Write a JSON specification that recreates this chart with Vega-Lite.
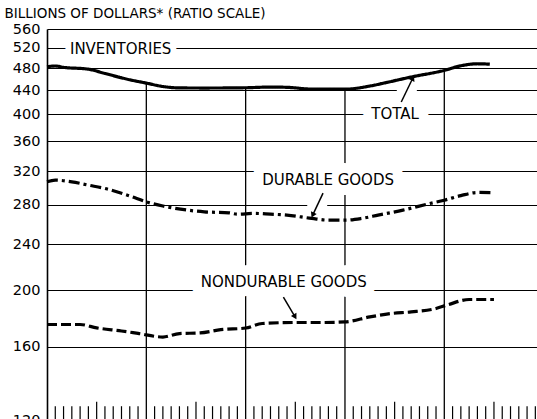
{
  "$schema": "https://vega.github.io/schema/vega-lite/v6.json",
  "width": 490,
  "height": 391,
  "autosize": {"type": "none"},
  "padding": {"left": 47, "top": 29, "right": 0, "bottom": 0},
  "background": "white",
  "config": {
    "view": {"stroke": null},
    "font": "DejaVu Sans",
    "axisY": {
      "grid": true, "gridColor": "black", "gridWidth": 1.2, "gridOpacity": 1,
      "ticks": false, "domain": true, "domainColor": "black", "domainWidth": 1.6,
      "labelFont": "DejaVu Sans", "labelFontSize": 14.5, "labelColor": "black",
      "labelPadding": 7, "labelFlush": false, "labelOverlap": false, "format": "d",
      "titleAngle": 0, "titleAlign": "left", "titleBaseline": "middle", "titleX": -43, "titleY": -15.5,
      "titleFont": "DejaVu Sans", "titleFontSize": 13.5, "titleFontWeight": "normal", "titleColor": "black"
    }
  },
  "datasets": {
    "series": [
      {"series": "Total", "month": 0, "value": 482.6},
      {"series": "Total", "month": 1, "value": 484},
      {"series": "Total", "month": 2, "value": 481.5},
      {"series": "Total", "month": 5, "value": 478},
      {"series": "Total", "month": 7, "value": 470},
      {"series": "Total", "month": 10, "value": 458.5},
      {"series": "Total", "month": 12, "value": 452.5},
      {"series": "Total", "month": 14, "value": 446.5},
      {"series": "Total", "month": 16, "value": 444},
      {"series": "Total", "month": 19, "value": 443.8},
      {"series": "Total", "month": 24, "value": 444.3},
      {"series": "Total", "month": 27, "value": 445.5},
      {"series": "Total", "month": 29, "value": 445},
      {"series": "Total", "month": 32, "value": 442},
      {"series": "Total", "month": 36, "value": 441.8},
      {"series": "Total", "month": 39, "value": 447.3},
      {"series": "Total", "month": 41, "value": 453.5},
      {"series": "Total", "month": 44, "value": 463.5},
      {"series": "Total", "month": 48, "value": 475.8},
      {"series": "Total", "month": 50, "value": 484.5},
      {"series": "Total", "month": 52, "value": 488.3},
      {"series": "Total", "month": 53.5, "value": 487.5},
      {"series": "Durable", "month": 0, "value": 306.7},
      {"series": "Durable", "month": 1, "value": 308.7},
      {"series": "Durable", "month": 3, "value": 306.7},
      {"series": "Durable", "month": 5, "value": 302.7},
      {"series": "Durable", "month": 7, "value": 298.8},
      {"series": "Durable", "month": 10, "value": 290},
      {"series": "Durable", "month": 12, "value": 283.4},
      {"series": "Durable", "month": 14, "value": 278.8},
      {"series": "Durable", "month": 17, "value": 274.3},
      {"series": "Durable", "month": 19, "value": 272.5},
      {"series": "Durable", "month": 22, "value": 271.4},
      {"series": "Durable", "month": 23, "value": 270},
      {"series": "Durable", "month": 25, "value": 270.8},
      {"series": "Durable", "month": 27, "value": 270},
      {"series": "Durable", "month": 29, "value": 269},
      {"series": "Durable", "month": 32, "value": 265.5},
      {"series": "Durable", "month": 34, "value": 263.7},
      {"series": "Durable", "month": 36, "value": 263.7},
      {"series": "Durable", "month": 38, "value": 265.5},
      {"series": "Durable", "month": 40, "value": 269},
      {"series": "Durable", "month": 43, "value": 274.3},
      {"series": "Durable", "month": 46, "value": 281},
      {"series": "Durable", "month": 48, "value": 285.3},
      {"series": "Durable", "month": 50, "value": 290.5},
      {"series": "Durable", "month": 52, "value": 294.1},
      {"series": "Durable", "month": 54, "value": 293.7},
      {"series": "Nondurable", "month": 0, "value": 174.8},
      {"series": "Nondurable", "month": 4, "value": 174.8},
      {"series": "Nondurable", "month": 6, "value": 172.5},
      {"series": "Nondurable", "month": 9, "value": 170.4},
      {"series": "Nondurable", "month": 11, "value": 168.8},
      {"series": "Nondurable", "month": 14, "value": 166.4},
      {"series": "Nondurable", "month": 16, "value": 168.7},
      {"series": "Nondurable", "month": 18.5, "value": 169.1},
      {"series": "Nondurable", "month": 21, "value": 171.3},
      {"series": "Nondurable", "month": 24, "value": 172.4},
      {"series": "Nondurable", "month": 26, "value": 175.5},
      {"series": "Nondurable", "month": 30, "value": 176.2},
      {"series": "Nondurable", "month": 33, "value": 176.2},
      {"series": "Nondurable", "month": 36, "value": 176.6},
      {"series": "Nondurable", "month": 39, "value": 180.1},
      {"series": "Nondurable", "month": 41.5, "value": 182.5},
      {"series": "Nondurable", "month": 44, "value": 183.7},
      {"series": "Nondurable", "month": 47, "value": 186.2},
      {"series": "Nondurable", "month": 48.5, "value": 189.1},
      {"series": "Nondurable", "month": 51, "value": 192.9},
      {"series": "Nondurable", "month": 54, "value": 192.9}
    ],
    "minorTicks": [
      {"month": 1}, {"month": 2}, {"month": 3}, {"month": 4}, {"month": 5},
      {"month": 7}, {"month": 8}, {"month": 9}, {"month": 10}, {"month": 11},
      {"month": 13}, {"month": 14}, {"month": 15}, {"month": 16}, {"month": 17},
      {"month": 19}, {"month": 20}, {"month": 21}, {"month": 22}, {"month": 23},
      {"month": 25}, {"month": 26}, {"month": 27}, {"month": 28}, {"month": 29},
      {"month": 31}, {"month": 32}, {"month": 33}, {"month": 34}, {"month": 35},
      {"month": 37}, {"month": 38}, {"month": 39}, {"month": 40}, {"month": 41},
      {"month": 43}, {"month": 44}, {"month": 45}, {"month": 46}, {"month": 47},
      {"month": 49}, {"month": 50}, {"month": 51}, {"month": 52}, {"month": 53},
      {"month": 55}, {"month": 56}, {"month": 57}, {"month": 58}, {"month": 59}
    ],
    "midTicks": [
      {"month": 6}, {"month": 18}, {"month": 30}, {"month": 42}, {"month": 54}
    ],
    "labels": [
      {"label": "INVENTORIES", "month": 8.9, "value": 518},
      {"label": "TOTAL", "month": 42.05, "value": 401},
      {"label": "DURABLE GOODS", "month": 33.96, "value": 308.7},
      {"label": "NONDURABLE GOODS", "month": 28.6, "value": 206.5}
    ],
    "arrows": [
      {"name": "Total", "m1": 42.8, "v1": 420, "m2": 44.2, "v2": 461.6},
      {"name": "Durable", "m1": 33.35, "v1": 293.3, "m2": 32.1, "v2": 269},
      {"name": "Nondurable", "m1": 28.56, "v1": 194.8, "m2": 29.97, "v2": 180.2}
    ]
  },
  "layer": [
    {
      "data": {"name": "series"},
      "transform": [
        {"filter": {"field": "series", "equal": "Total"}},
        {"filter": {"field": "month", "oneOf": [12, 24, 36, 48]}}
      ],
      "mark": {"type": "rule", "color": "black", "strokeWidth": 1.3},
      "encoding": {
        "x": {"field": "month", "type": "quantitative", "scale": {"domain": [0, 59.2], "nice": false, "zero": false}, "axis": null},
        "y": {
          "field": "value", "type": "quantitative",
          "scale": {"type": "log", "domain": [120, 560], "nice": false},
          "axis": {"values": [120, 160, 200, 240, 280, 320, 360, 400, 440, 480, 520, 560]},
          "title": "BILLIONS OF DOLLARS* (RATIO SCALE)"
        },
        "y2": {"datum": 120}
      }
    },
    {
      "data": {"name": "minorTicks"},
      "mark": {"type": "rule", "color": "black", "strokeWidth": 1.2},
      "encoding": {
        "x": {"field": "month", "type": "quantitative", "scale": {"domain": [0, 59.2], "nice": false, "zero": false}, "axis": null},
        "y": {"datum": 120, "type": "quantitative", "scale": {"type": "log", "domain": [120, 560], "nice": false}},
        "y2": {"datum": 126.7}
      }
    },
    {
      "data": {"name": "midTicks"},
      "mark": {"type": "rule", "color": "black", "strokeWidth": 1.2},
      "encoding": {
        "x": {"field": "month", "type": "quantitative", "scale": {"domain": [0, 59.2], "nice": false, "zero": false}, "axis": null},
        "y": {"datum": 120, "type": "quantitative", "scale": {"type": "log", "domain": [120, 560], "nice": false}},
        "y2": {"datum": 128.9}
      }
    },
    {
      "data": {"name": "labels"},
      "transform": [{"filter": {"not": {"field": "label", "equal": "INVENTORIES"}}}],
      "mark": {"type": "text", "color": "white", "stroke": "white", "strokeWidth": 20, "strokeJoin": "round", "font": "DejaVu Sans", "fontSize": 15, "align": "center", "baseline": "middle"},
      "encoding": {
        "x": {"field": "month", "type": "quantitative", "scale": {"domain": [0, 59.2], "nice": false, "zero": false}, "axis": null},
        "y": {"field": "value", "type": "quantitative", "scale": {"type": "log", "domain": [120, 560], "nice": false}},
        "text": {"field": "label"}
      }
    },
    {
      "data": {"name": "labels"},
      "transform": [{"filter": {"field": "label", "equal": "INVENTORIES"}}],
      "mark": {"type": "text", "color": "white", "stroke": "white", "strokeWidth": 12, "strokeJoin": "round", "font": "DejaVu Sans", "fontSize": 15, "align": "center", "baseline": "middle"},
      "encoding": {
        "x": {"field": "month", "type": "quantitative", "scale": {"domain": [0, 59.2], "nice": false, "zero": false}, "axis": null},
        "y": {"field": "value", "type": "quantitative", "scale": {"type": "log", "domain": [120, 560], "nice": false}},
        "text": {"field": "label"}
      }
    },
    {
      "data": {"name": "arrows"},
      "mark": {"type": "rule", "color": "white", "strokeWidth": 18, "strokeCap": "butt"},
      "encoding": {
        "x": {"field": "m1", "type": "quantitative", "scale": {"domain": [0, 59.2], "nice": false, "zero": false}, "axis": null},
        "y": {"field": "v1", "type": "quantitative", "scale": {"type": "log", "domain": [120, 560], "nice": false}},
        "x2": {"field": "m2"},
        "y2": {"field": "v2"}
      }
    },
    {
      "data": {"name": "series"},
      "mark": {"type": "line", "color": "black", "strokeWidth": 3.2, "interpolate": "monotone"},
      "encoding": {
        "x": {"field": "month", "type": "quantitative", "scale": {"domain": [0, 59.2], "nice": false, "zero": false}, "axis": null},
        "y": {"field": "value", "type": "quantitative", "scale": {"type": "log", "domain": [120, 560], "nice": false}},
        "strokeDash": {
          "field": "series", "type": "nominal",
          "scale": {"domain": ["Total", "Durable", "Nondurable"], "range": [[1, 0], [11, 4, 3, 4], [10, 4]]},
          "legend": null
        }
      }
    },
    {
      "data": {"name": "arrows"},
      "mark": {"type": "rule", "color": "black", "strokeWidth": 1.5},
      "encoding": {
        "x": {"field": "m1", "type": "quantitative", "scale": {"domain": [0, 59.2], "nice": false, "zero": false}, "axis": null},
        "y": {"field": "v1", "type": "quantitative", "scale": {"type": "log", "domain": [120, 560], "nice": false}},
        "x2": {"field": "m2"},
        "y2": {"field": "v2"}
      }
    },
    {
      "data": {"name": "arrows"},
      "transform": [{"filter": {"field": "name", "equal": "Total"}}],
      "mark": {"type": "point", "shape": "triangle-up", "filled": true, "color": "black", "size": 40, "angle": 26.6, "opacity": 1},
      "encoding": {
        "x": {"field": "m2", "type": "quantitative", "scale": {"domain": [0, 59.2], "nice": false, "zero": false}, "axis": null},
        "y": {"field": "v2", "type": "quantitative", "scale": {"type": "log", "domain": [120, 560], "nice": false}}
      }
    },
    {
      "data": {"name": "arrows"},
      "transform": [{"filter": {"field": "name", "equal": "Durable"}}],
      "mark": {"type": "point", "shape": "triangle-up", "filled": true, "color": "black", "size": 40, "angle": 204.4, "opacity": 1},
      "encoding": {
        "x": {"field": "m2", "type": "quantitative", "scale": {"domain": [0, 59.2], "nice": false, "zero": false}, "axis": null},
        "y": {"field": "v2", "type": "quantitative", "scale": {"type": "log", "domain": [120, 560], "nice": false}}
      }
    },
    {
      "data": {"name": "arrows"},
      "transform": [{"filter": {"field": "name", "equal": "Nondurable"}}],
      "mark": {"type": "point", "shape": "triangle-up", "filled": true, "color": "black", "size": 40, "angle": 149.7, "opacity": 1},
      "encoding": {
        "x": {"field": "m2", "type": "quantitative", "scale": {"domain": [0, 59.2], "nice": false, "zero": false}, "axis": null},
        "y": {"field": "v2", "type": "quantitative", "scale": {"type": "log", "domain": [120, 560], "nice": false}}
      }
    },
    {
      "data": {"name": "labels"},
      "mark": {"type": "text", "color": "black", "font": "DejaVu Sans", "fontSize": 15, "align": "center", "baseline": "middle"},
      "encoding": {
        "x": {"field": "month", "type": "quantitative", "scale": {"domain": [0, 59.2], "nice": false, "zero": false}, "axis": null},
        "y": {"field": "value", "type": "quantitative", "scale": {"type": "log", "domain": [120, 560], "nice": false}},
        "text": {"field": "label"}
      }
    }
  ]
}
